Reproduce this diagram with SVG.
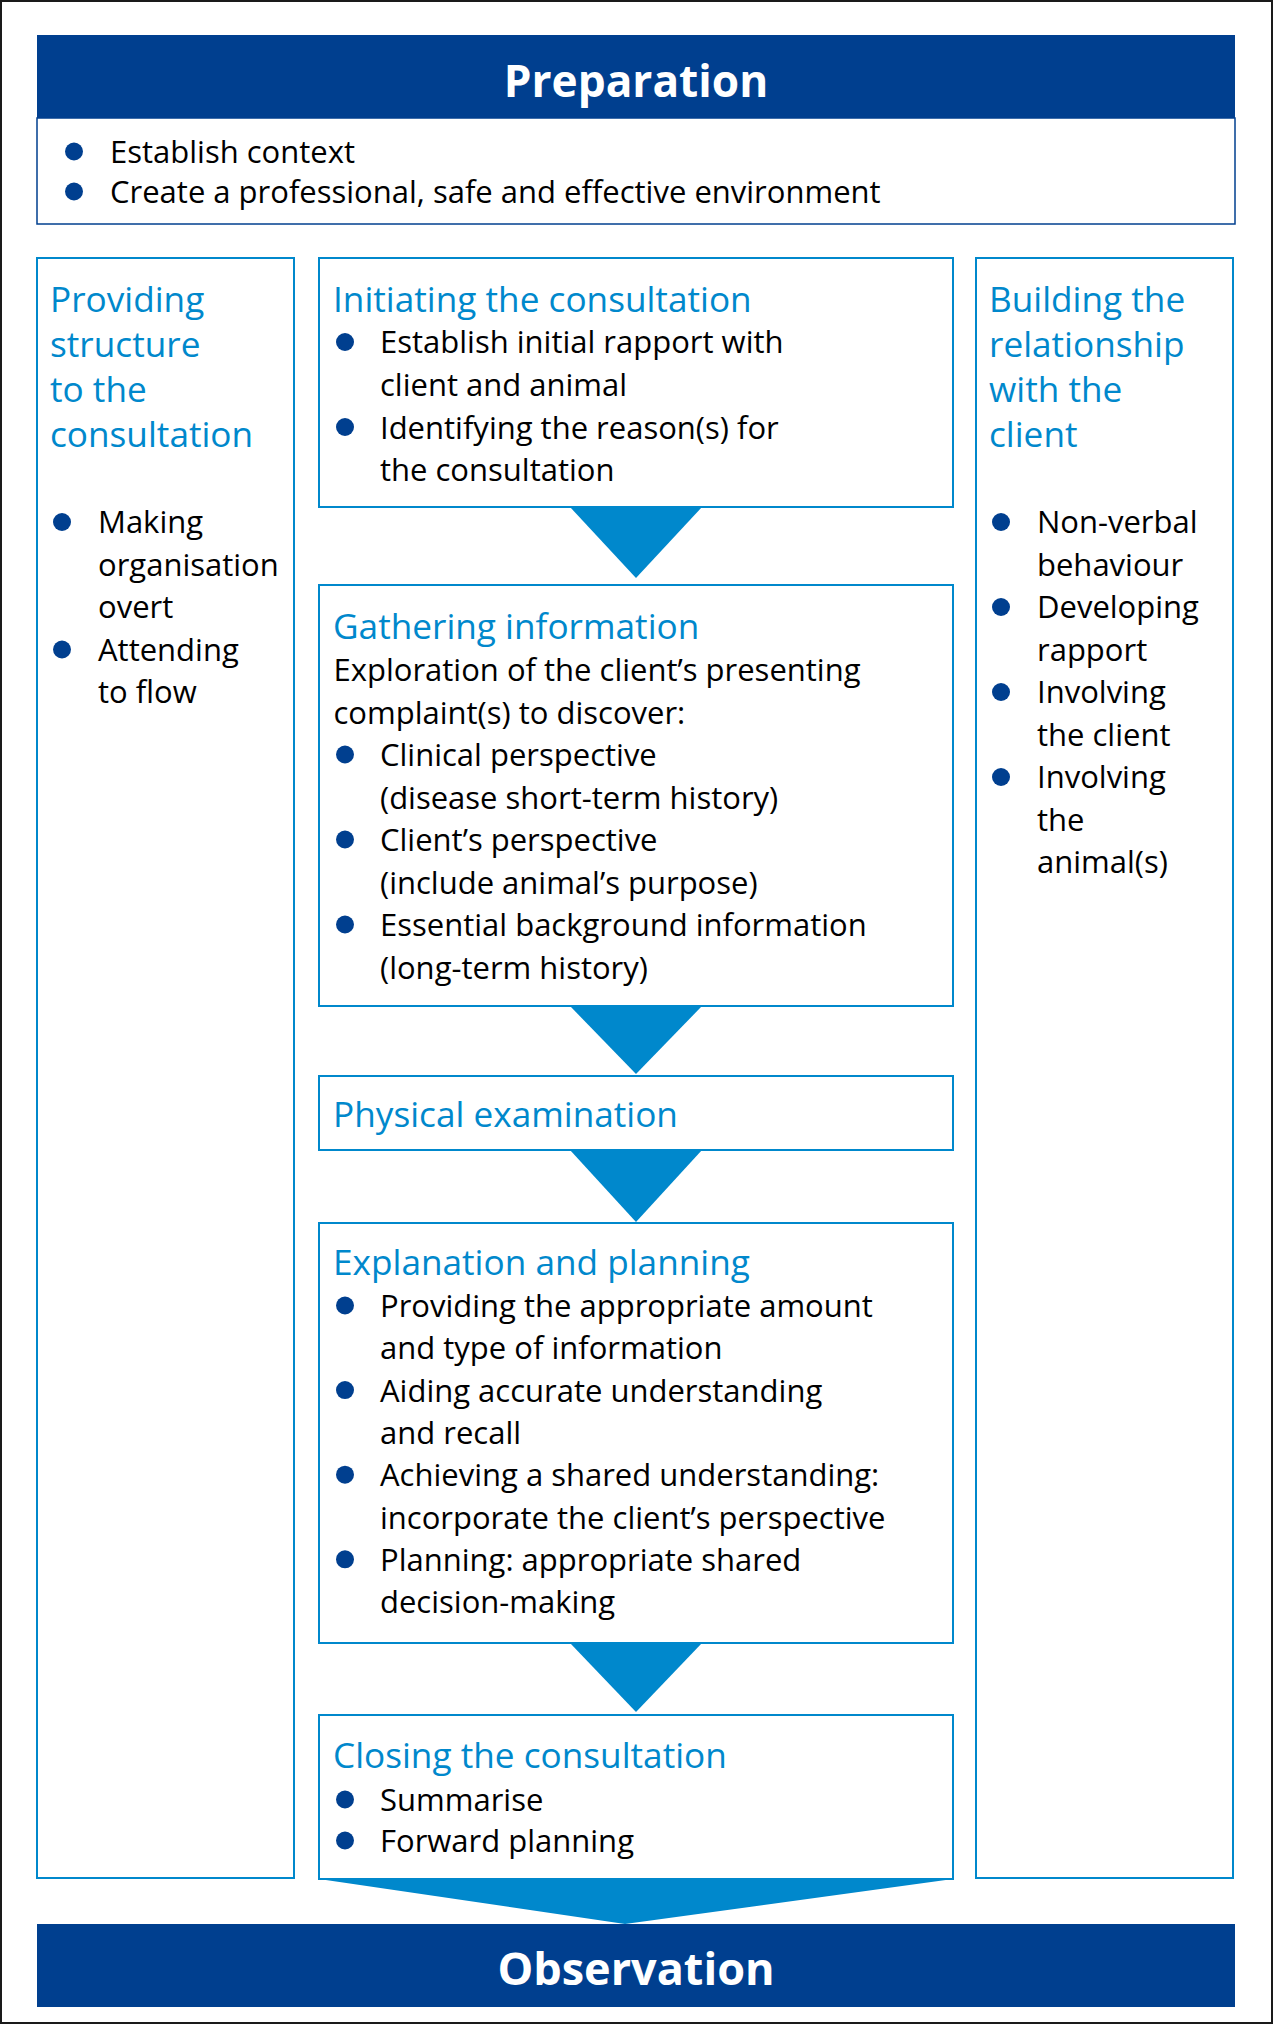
<svg xmlns="http://www.w3.org/2000/svg" width="1274" height="2025" viewBox="0 0 1274 2025">
<style>
.frame{fill:#fff;stroke:#1a1a1a;stroke-width:2}
.band{fill:#003f8f}
.band-txt{fill:#fff;font-family:"Open Sans","Noto Sans",sans-serif;font-weight:700;font-size:45px;text-anchor:middle}
.prep{fill:#fff;stroke:#003f8f;stroke-width:1.5}
.box{fill:#fff;stroke:#0088cc;stroke-width:2}
.title{fill:#0088cc;font-family:"Open Sans","Noto Sans",sans-serif;font-weight:400;font-size:35.2px}
.body{fill:#000;font-family:"Open Sans","Noto Sans",sans-serif;font-weight:400;font-size:31px}
.dot{fill:#003f8f}
.arrow{fill:#0088cc}
</style>
<defs>
<circle id="b" r="9" class="dot"/>
</defs>
<rect class="frame" x="1" y="1" width="1271" height="2022"/>

<g id="connectors">
<polygon class="arrow" points="570,507 702,507 636,578"/>
<polygon class="arrow" points="570,1006 702,1006 636,1074"/>
<polygon class="arrow" points="570,1150 702,1150 636,1222"/>
<polygon class="arrow" points="570,1643 702,1643 636,1712"/>
<polygon class="arrow" points="319,1879 953,1879 625,1924"/>
</g>

<g id="preparation">
<rect class="band" x="37" y="35" width="1198" height="83"/>
<text class="band-txt" x="636" y="97" style="font-size:44.2px">Preparation</text>
<rect class="prep" x="37" y="118" width="1198" height="106"/>
<use href="#b" x="74" y="151.5"/>
<text class="body" x="110" y="163">Establish context</text>
<use href="#b" x="74" y="191.5"/>
<text class="body" x="110" y="203">Create a professional, safe and effective environment</text>
</g>

<g id="structure">
<rect class="box" x="37" y="258" width="257" height="1620"/>
<text class="title" x="50" y="311.7">Providing</text>
<text class="title" x="50" y="356.5">structure</text>
<text class="title" x="50" y="401.5">to the</text>
<text class="title" x="50" y="446.5">consultation</text>
<use href="#b" x="62" y="522"/>
<text class="body" x="98" y="533.3">Making</text>
<text class="body" x="98" y="575.8">organisation</text>
<text class="body" x="98" y="618.3">overt</text>
<use href="#b" x="62" y="649.5"/>
<text class="body" x="98" y="660.8">Attending</text>
<text class="body" x="98" y="703.3">to flow</text>
</g>

<g id="relationship">
<rect class="box" x="976" y="258" width="257" height="1620"/>
<text class="title" x="989" y="311.7">Building the</text>
<text class="title" x="989" y="356.5">relationship</text>
<text class="title" x="989" y="401.5">with the</text>
<text class="title" x="989" y="446.5">client</text>
<use href="#b" x="1001" y="522"/>
<text class="body" x="1037" y="533.3">Non-verbal</text>
<text class="body" x="1037" y="575.8">behaviour</text>
<use href="#b" x="1001" y="607"/>
<text class="body" x="1037" y="618.3">Developing</text>
<text class="body" x="1037" y="660.8">rapport</text>
<use href="#b" x="1001" y="692"/>
<text class="body" x="1037" y="703.3">Involving</text>
<text class="body" x="1037" y="745.8">the client</text>
<use href="#b" x="1001" y="777"/>
<text class="body" x="1037" y="788.3">Involving</text>
<text class="body" x="1037" y="830.8">the</text>
<text class="body" x="1037" y="873.3">animal(s)</text>
</g>

<g id="initiating">
<rect class="box" x="319" y="258" width="634" height="249"/>
<text class="title" x="333" y="311.7">Initiating the consultation</text>
<use href="#b" x="345" y="342"/>
<text class="body" x="380" y="353.3">Establish initial rapport with</text>
<text class="body" x="380" y="396">client and animal</text>
<use href="#b" x="345" y="427"/>
<text class="body" x="380" y="438.5">Identifying the reason(s) for</text>
<text class="body" x="380" y="481">the consultation</text>
</g>

<g id="gathering">
<rect class="box" x="319" y="585" width="634" height="421"/>
<text class="title" x="333" y="639">Gathering information</text>
<text class="body" x="333.5" y="681">Exploration of the client’s presenting</text>
<text class="body" x="333.5" y="723.5">complaint(s) to discover:</text>
<use href="#b" x="345" y="754.5"/>
<text class="body" x="380" y="766">Clinical perspective</text>
<text class="body" x="380" y="808.5">(disease short-term history)</text>
<use href="#b" x="345" y="839.5"/>
<text class="body" x="380" y="851">Client’s perspective</text>
<text class="body" x="380" y="893.5">(include animal’s purpose)</text>
<use href="#b" x="345" y="924.5"/>
<text class="body" x="380" y="936">Essential background information</text>
<text class="body" x="380" y="978.5">(long-term history)</text>
</g>

<g id="physical">
<rect class="box" x="319" y="1076" width="634" height="74"/>
<text class="title" x="333" y="1127">Physical examination</text>
</g>

<g id="explanation">
<rect class="box" x="319" y="1223" width="634" height="420"/>
<text class="title" x="333" y="1275">Explanation and planning</text>
<use href="#b" x="345" y="1305.5"/>
<text class="body" x="380" y="1317">Providing the appropriate amount</text>
<text class="body" x="380" y="1359.3">and type of information</text>
<use href="#b" x="345" y="1390.1"/>
<text class="body" x="380" y="1401.6">Aiding accurate understanding</text>
<text class="body" x="380" y="1443.9">and recall</text>
<use href="#b" x="345" y="1474.7"/>
<text class="body" x="380" y="1486.2">Achieving a shared understanding:</text>
<text class="body" x="380" y="1528.5">incorporate the client’s perspective</text>
<use href="#b" x="345" y="1559.3"/>
<text class="body" x="380" y="1570.8">Planning: appropriate shared</text>
<text class="body" x="380" y="1613.1">decision-making</text>
</g>

<g id="closing">
<rect class="box" x="319" y="1715" width="634" height="164"/>
<text class="title" x="333" y="1768.3">Closing the consultation</text>
<use href="#b" x="345" y="1799.5"/>
<text class="body" x="380" y="1811">Summarise</text>
<use href="#b" x="345" y="1840.5"/>
<text class="body" x="380" y="1852">Forward planning</text>
</g>

<g id="observation">
<rect class="band" x="37" y="1924" width="1198" height="83"/>
<text class="band-txt" x="636" y="1985">Observation</text>
</g>
</svg>
